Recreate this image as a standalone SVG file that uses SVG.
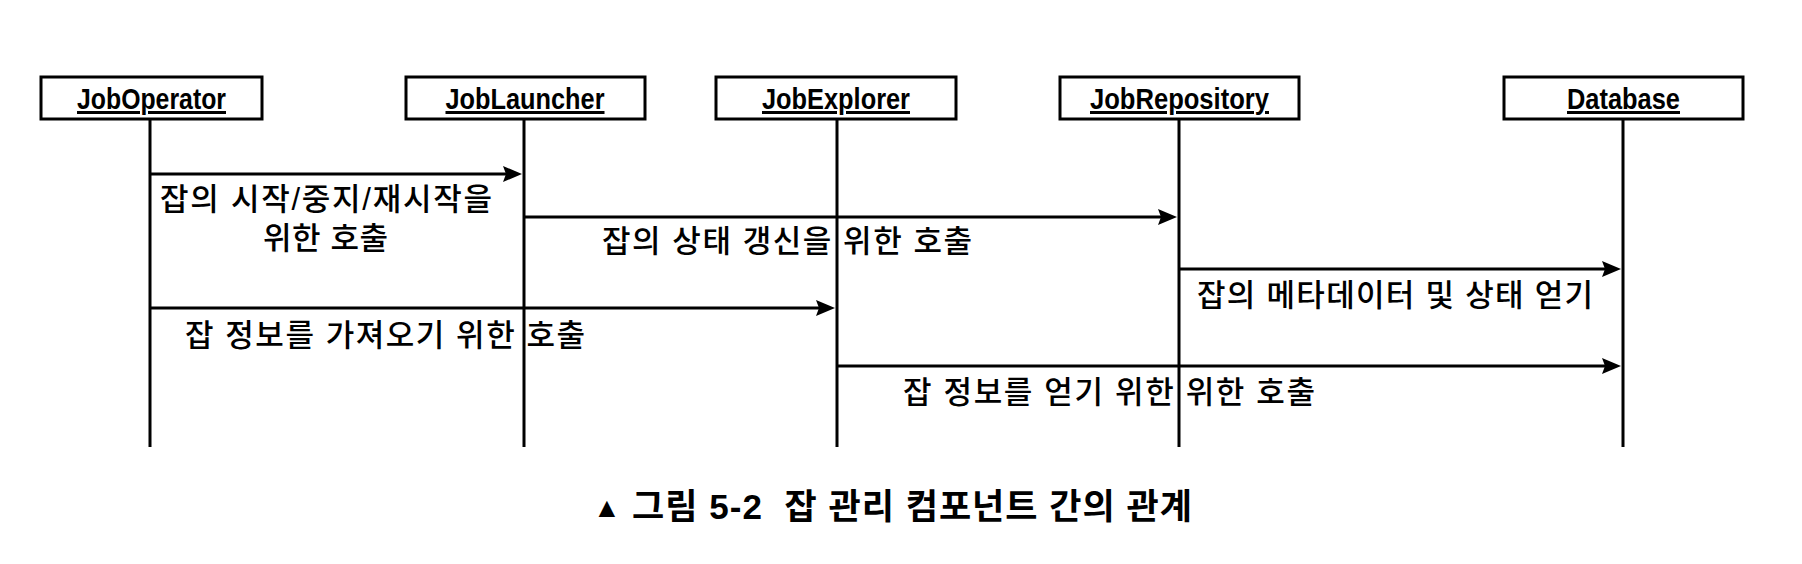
<svg xmlns="http://www.w3.org/2000/svg" width="1802" height="564" viewBox="0 0 1802 564">
<style>
.box{fill:#fff;stroke:#000;stroke-width:3}
.name{font-family:"Liberation Sans",Arial,sans-serif;font-weight:bold;font-size:30px;text-decoration:underline;fill:#000}
.life{stroke:#000;stroke-width:3;fill:none}
.msg{stroke:#000;stroke-width:3;fill:none;marker-end:url(#ah)}
.lbl{font-family:"Liberation Sans","Noto Sans CJK KR",sans-serif;font-size:31px;font-weight:500;fill:#000}
.cap{font-family:"Liberation Sans","Noto Sans CJK KR",sans-serif;font-size:35px;font-weight:bold;fill:#000}
</style>
<defs>
<marker id="ah" viewBox="0 0 19 16" refX="13" refY="8" markerWidth="19" markerHeight="16" markerUnits="userSpaceOnUse" orient="auto">
<path d="M0,0 L19,8 L0,16 L3,8 z" fill="#000"/>
</marker>
</defs>
<rect width="1802" height="564" fill="#fff"/>
<g id="lifelines">
<line class="life" x1="150" y1="119" x2="150" y2="447"/>
<line class="life" x1="524" y1="119" x2="524" y2="447"/>
<line class="life" x1="837" y1="119" x2="837" y2="447"/>
<line class="life" x1="1179" y1="119" x2="1179" y2="447"/>
<line class="life" x1="1623" y1="119" x2="1623" y2="447"/>
</g>
<g id="JobOperator">
<rect class="box" x="41" y="77" width="221" height="42"/>
<text class="name" x="151.5" y="109" text-anchor="middle" textLength="149" lengthAdjust="spacingAndGlyphs">JobOperator</text>
</g>
<g id="JobLauncher">
<rect class="box" x="406" y="77" width="239" height="42"/>
<text class="name" x="525" y="109" text-anchor="middle" textLength="159" lengthAdjust="spacingAndGlyphs">JobLauncher</text>
</g>
<g id="JobExplorer">
<rect class="box" x="716" y="77" width="240" height="42"/>
<text class="name" x="836" y="109" text-anchor="middle" textLength="148" lengthAdjust="spacingAndGlyphs">JobExplorer</text>
</g>
<g id="JobRepository">
<rect class="box" x="1060" y="77" width="239" height="42"/>
<text class="name" x="1179.5" y="109" text-anchor="middle" textLength="179" lengthAdjust="spacingAndGlyphs">JobRepository</text>
</g>
<g id="Database">
<rect class="box" x="1504" y="77" width="239" height="42"/>
<text class="name" x="1623.5" y="109" text-anchor="middle" textLength="113" lengthAdjust="spacingAndGlyphs">Database</text>
</g>
<g id="connectors">
<line class="msg" x1="151" y1="174" x2="516" y2="174"/>
<line class="msg" x1="525" y1="217" x2="1171" y2="217"/>
<line class="msg" x1="151" y1="308" x2="829" y2="308"/>
<line class="msg" x1="1180" y1="269" x2="1615" y2="269"/>
<line class="msg" x1="838" y1="366" x2="1615" y2="366"/>
</g>
<g id="labels">
<text class="lbl" x="160" y="210" textLength="332" lengthAdjust="spacing">잡의 시작/중지/재시작을</text>
<text class="lbl" x="263" y="249" textLength="125" lengthAdjust="spacing">위한 호출</text>
<text class="lbl" x="602" y="252" textLength="370" lengthAdjust="spacing">잡의 상태 갱신을 위한 호출</text>
<text class="lbl" x="185" y="346" textLength="400" lengthAdjust="spacing">잡 정보를 가져오기 위한 호출</text>
<text class="lbl" x="1197" y="306" textLength="396" lengthAdjust="spacing">잡의 메타데이터 및 상태 얻기</text>
<text class="lbl" x="903" y="403" textLength="412" lengthAdjust="spacing">잡 정보를 얻기 위한 위한 호출</text>
</g>
<g id="caption">
<text class="cap" x="593" y="517" style="font-size:28px">▲</text>
<text class="cap" x="632" y="519" textLength="560" lengthAdjust="spacing" xml:space="preserve">그림 5-2  잡 관리 컴포넌트 간의 관계</text>
</g>
</svg>
